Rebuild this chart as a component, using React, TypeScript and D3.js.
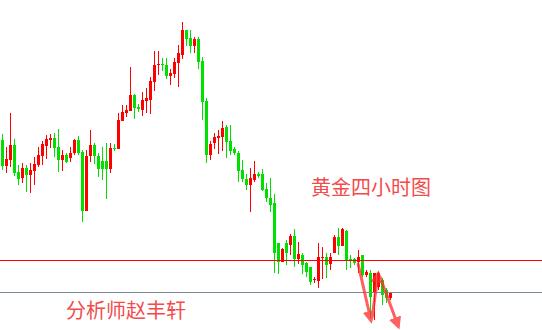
import React from "react";
import * as d3 from "d3";

const W = 542;
const H = 330;

// Four-hour gold candles (price units, oldest first)
const opens = [190,164,170,185,158,152,162,155,159,165,174,184,190,192,183,170,175,172,177,190,178,119,174,185,174,169,169,161,182,181,209,217,219,235,223,220,229,230,248,265,266,265,254,256,267,275,300,292,284,291,269,229,175,187,192,193,203,189,181,177,160,151,145,150,156,156,141,132,127,87,68,87,85,94,71,75,67,63,50,49,72,73,66,77,93,84,99,71,71,68,75,55,57,37,43,50,40,32];
const highs = [196,183,217,191,165,167,165,167,173,183,189,195,196,197,201,180,177,183,191,194,180,180,200,187,177,183,187,187,186,217,225,225,263,236,226,238,242,253,279,279,272,272,261,272,285,308,300,300,293,293,273,232,189,197,200,209,205,205,183,179,170,156,162,169,158,161,147,152,136,87,82,90,96,101,88,77,68,63,53,87,83,77,77,95,102,102,100,75,72,80,75,60,60,57,58,52,42,38];
const lows = [160,157,163,154,145,147,138,137,145,163,165,171,182,173,158,159,167,168,175,175,108,119,168,166,153,150,131,157,179,181,209,213,219,211,218,214,217,216,239,255,259,251,245,252,243,271,284,277,277,261,210,167,170,181,176,179,172,175,175,148,148,140,118,148,152,139,128,118,57,56,68,65,75,63,66,56,53,45,47,42,51,52,60,77,75,84,60,62,65,57,53,53,12,10,40,25,27,30];
const closes = [164,171,185,157,151,162,155,160,166,175,186,191,192,182,170,175,168,177,190,177,119,174,185,174,161,161,161,182,181,210,218,220,235,222,221,230,232,249,265,266,265,254,257,268,277,300,291,284,291,268,228,175,186,193,194,202,188,179,177,159,151,145,152,156,154,140,132,125,77,68,81,77,94,71,76,65,58,48,51,73,73,65,73,93,84,101,70,69,67,73,55,58,33,57,57,35,32,38];

// Horizontal reference levels (price units)
const resistanceLevel = 70;
const supportLevel = 38;

// Hand-drawn projection strokes (candle index, price)
const arrowLegs = [
  [[88.9, 66], [92.1, 10]],
  [[92.4, 13], [93.9, 56]],
  [[94.4, 53], [98.9, 4]],
];

const title = "黄金四小时图";
const author = "分析师赵丰轩";

const UP = "#ff0000";
const DOWN = "#00e000";

export default function App() {
  const x = d3.scaleLinear().domain([0, opens.length - 1]).range([2.5, 2.5 + 4 * (opens.length - 1)]);
  const y = d3.scaleLinear().domain([0, 330]).range([330, 0]);
  const bodyW = 3;

  const candles = opens.map((o, i) => ({ o, h: highs[i], l: lows[i], c: closes[i], i }));
  const line = d3.line<number[]>().x((d) => x(d[0])).y((d) => y(d[1]));

  return (
    <svg
      width={W}
      height={H}
      style={{ position: "absolute", left: 0, top: 0, background: "#fff" }}
    >
      <defs>
        <marker id="head" viewBox="0 0 10 10" refX="7" refY="5" markerWidth="4.2" markerHeight="4.2" orient="auto">
          <path d="M0,0 L10,5 L0,10 z" fill="#ff2a2a" />
        </marker>
      </defs>
      <rect width={W} height={H} fill="#fff" />
      <g shapeRendering="crispEdges">
        {candles.map((d) => {
          const color = d.c >= d.o ? UP : DOWN;
          const cx = Math.floor(x(d.i)) + 0.5;
          const top = y(Math.max(d.o, d.c));
          const bot = y(Math.min(d.o, d.c));
          return (
            <g key={d.i}>
              <line x1={cx} x2={cx} y1={y(d.h)} y2={y(d.l)} stroke={color} strokeWidth={1} />
              <rect x={cx - 1.5} y={top} width={bodyW} height={Math.max(1, bot - top)} fill={color} />
            </g>
          );
        })}
        <line x1={0} x2={W} y1={y(resistanceLevel) + 0.5} y2={y(resistanceLevel) + 0.5} stroke="#ff0000" strokeWidth={1} />
        <line x1={0} x2={W} y1={y(supportLevel) + 0.5} y2={y(supportLevel) + 0.5} stroke="#7d8c9b" strokeWidth={1} />
      </g>
      <g opacity={0.75}>
        {arrowLegs.map((leg, k) => (
          <path
            key={k}
            d={line(leg as number[][]) || ""}
            fill="none"
            stroke="#ff2a2a"
            strokeWidth={3}
            strokeLinecap="round"
            markerEnd="url(#head)"
          />
        ))}
      </g>
      <g fontFamily="'Noto Sans CJK SC', sans-serif" fontSize={20} fill="#f34b4b">
        <text x={311} y={195}>{title}</text>
        <text x={66} y={318}>{author}</text>
      </g>
    </svg>
  );
}
